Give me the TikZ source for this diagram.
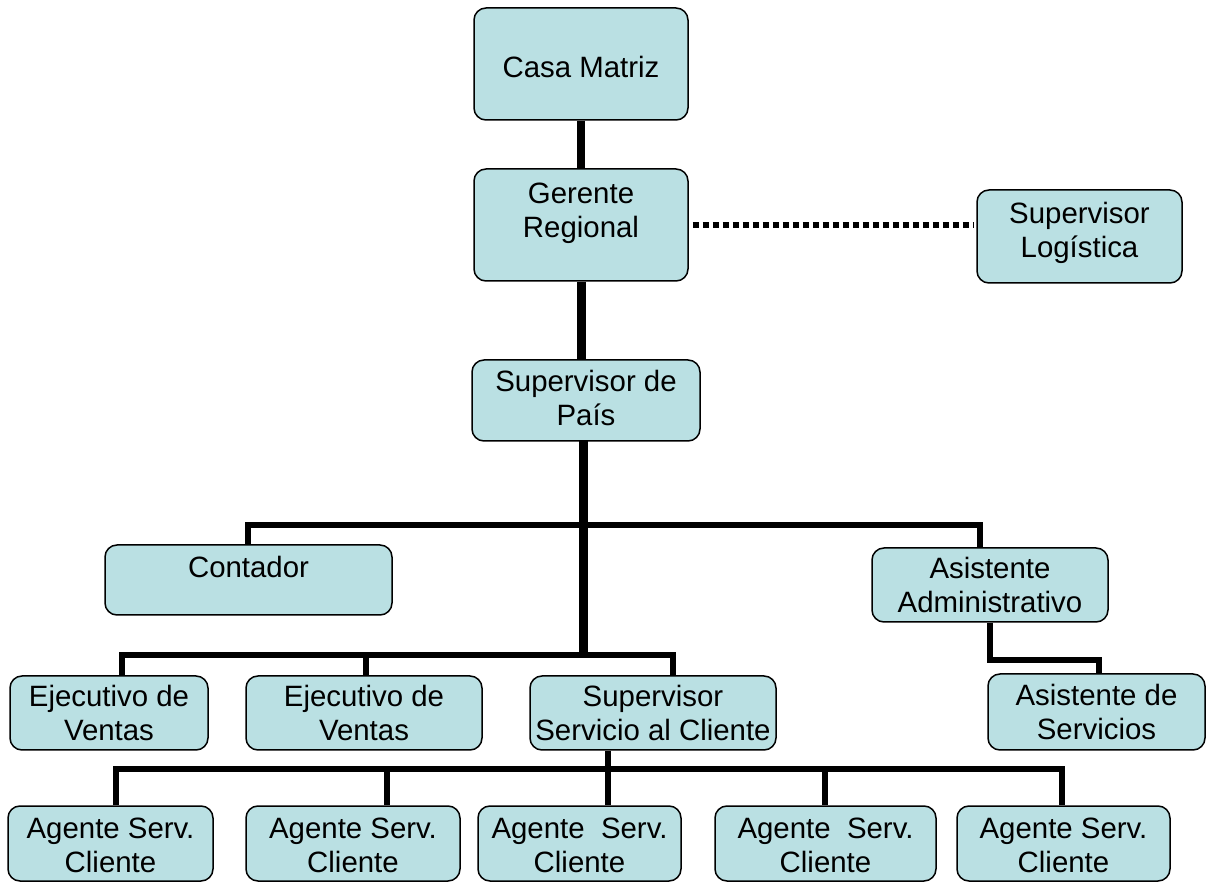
\documentclass[tikz,border=0pt]{standalone}
\usepackage{fontspec}
\setmainfont{Liberation Sans}
\definecolor{boxfill}{RGB}{186,224,227}
% #1 name, #2 x, #3 y, #4 width, #5 height, #6 text shift, #7 text
\newcommand\orgbox[7]{%
  \node[box, minimum width=#4, minimum height=#5,
    label={[boxtext,yshift=#6]center:{#7}}] (#1) at (#2,#3) {};}
\begin{document}
\begin{tikzpicture}[x=0.5pt,y=-0.5pt,
  box/.style={draw=black, line width=0.75pt, fill=boxfill, rounded corners=6pt,
    inner sep=0pt},
  boxtext/.style={inner sep=0pt, align=center, font=\fontsize{14.7}{17}\selectfont},
  thick line/.style={line width=4pt},
  trunk/.style={line width=4.5pt},
  bus/.style={line width=3pt, line join=miter},
  dotline/.style={line width=3pt, dash pattern=on 3pt off 2pt}]
\useasboundingbox (0,0) rectangle (1207,882);
% boxes
\orgbox{casa}{581}{64}{107pt}{56pt}{-1.5pt}{Casa Matriz}
\orgbox{ger}{581}{225}{107pt}{56pt}{6pt}{Gerente\\Regional}
\orgbox{log}{1079.5}{236.5}{102.5pt}{46.5pt}{2pt}{Supervisor\\Logística}
\orgbox{pais}{586}{400.5}{114pt}{40.5pt}{1.5pt}{Supervisor de\\País}
\orgbox{cont}{248.5}{580}{143.5pt}{35pt}{6.5pt}{Contador}
\orgbox{adm}{990}{585}{118pt}{37pt}{0pt}{Asistente\\Administrativo}
\orgbox{serv}{1096.5}{712}{108.5pt}{38pt}{0pt}{Asistente de\\Servicios}
\orgbox{ej1}{109}{713}{99pt}{37pt}{0pt}{Ejecutivo de\\Ventas}
\orgbox{ej2}{364}{713}{118pt}{37pt}{0pt}{Ejecutivo de\\Ventas}
\orgbox{ssc}{653}{713}{123pt}{37pt}{0pt}{Supervisor\\Servicio al Cliente}
\orgbox{ag1}{110.5}{843.5}{102.5pt}{37.5pt}{-1pt}{Agente Serv.\\Cliente}
\orgbox{ag2}{353}{843.5}{107pt}{37.5pt}{-1pt}{Agente Serv.\\Cliente}
\orgbox{ag3}{579.5}{843.5}{101.5pt}{37.5pt}{-1pt}{Agente~~Serv.\\Cliente}
\orgbox{ag4}{825.5}{843.5}{110.5pt}{37.5pt}{-1pt}{Agente~~Serv.\\Cliente}
\orgbox{ag5}{1063.5}{843.5}{106.5pt}{37.5pt}{-1pt}{Agente Serv.\\Cliente}
% coordinates
\coordinate (t1) at (583,441);
\coordinate (b1) at (583,525);
\coordinate (b2) at (583,655);
\coordinate (b1l) at (248,525);
\coordinate (b1r) at (980,525);
\coordinate (b2l) at (122,655);
\coordinate (b2m) at (366,655);
\coordinate (b2r) at (673,655);
\coordinate (e1) at (990,660);
\coordinate (e2) at (1099,660);
\coordinate (s1) at (608,769);
\coordinate (c1) at (116,769);
\coordinate (c2) at (387,769);
\coordinate (c4) at (825,769);
\coordinate (c5) at (1062,769);
% connectors
\draw[thick line] (casa.south) -- (ger.north);
\draw[trunk] (ger.south) -- (ger.south |- pais.north);
\draw[dotline] ([xshift=2pt]ger.east) -- ([xshift=-1pt]ger.east -| log.west);
\draw[trunk] (t1) -- ([yshift=-1.5pt]b2);
\draw[bus] (cont.north -| b1l) -- (b1l) -- (b1r) -- (b1r |- adm.north);
\draw[bus] (ej1.north -| b2l) -- (b2l) -- (b2r) -- (b2r |- ssc.north);
\draw[bus] (b2m) -- (b2m |- ej2.north);
\draw[bus] (adm.south -| e1) -- (e1) -- (e2) -- (e2 |- serv.north);
\draw[bus] (ssc.south -| s1) -- (s1 |- ag3.north);
\draw[bus] (ag1.north -| c1) -- (c1) -- (c5) -- (c5 |- ag5.north);
\draw[bus] (c2) -- (c2 |- ag2.north);
\draw[bus] (c4) -- (c4 |- ag4.north);
\end{tikzpicture}
\end{document}
